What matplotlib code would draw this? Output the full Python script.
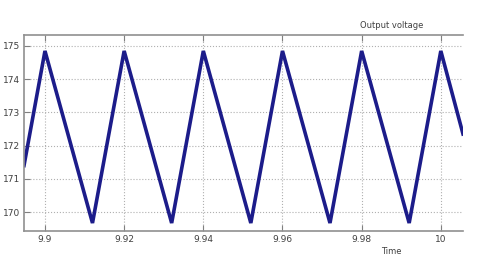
import matplotlib
matplotlib.use('Agg')
import matplotlib.pyplot as plt

# vertices of the triangular output voltage
t = [9.8947, 9.900, 9.912, 9.920, 9.932, 9.940, 9.952, 9.960, 9.972,
     9.980, 9.992, 10.000, 10.0056]
v = [171.4, 174.85, 169.67, 174.85, 169.67, 174.85, 169.67, 174.85, 169.67,
     174.85, 169.67, 174.85, 172.35]

xticks = [9.9, 9.92, 9.94, 9.96, 9.98, 10]
xlabels = ['9.9', '9.92', '9.94', '9.96', '9.98', '10']
yticks = [170, 171, 172, 173, 174, 175]

fig = plt.figure(figsize=(4.86, 2.63), dpi=100)
ax = fig.add_axes([24/486, 1-231/263, (463-24)/486, (231-35)/263])

ax.plot(t, v, color='#1c1c8a', linewidth=2.6, solid_joinstyle='miter')

ax.set_xlim(9.8947, 10.0056)
ax.set_ylim(169.43, 175.33)
ax.set_xticks(xticks)
ax.set_xticklabels(xlabels)
ax.set_yticks(yticks)
ax.grid(True, color='#b0b0b0', linestyle=':', linewidth=0.8)
ax.tick_params(axis='both', direction='in', top=True, right=False, length=4,
               color='#808080', labelsize=6.5, labelcolor='#404040', pad=3)
for side in ['top', 'bottom', 'left']:
    ax.spines[side].set_color('#909090')
    ax.spines[side].set_linewidth(1.2)
ax.spines['right'].set_visible(False)

fig.text(392/486, 1-25/263, 'Output voltage', fontsize=6, color='#404040',
         ha='center', va='center')
fig.text(391/486, 1-251/263, 'Time', fontsize=6, color='#404040',
         ha='center', va='center')

fig.savefig('out.png', dpi=100)
